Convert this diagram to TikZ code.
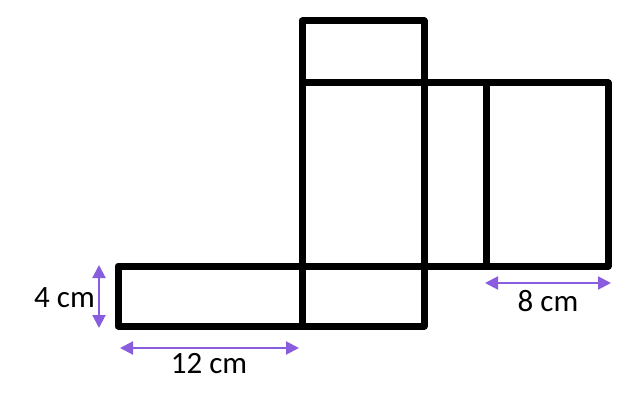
\documentclass[tikz,border=0pt]{standalone}
\usepackage{fontspec}
\setmainfont{Carlito}
\usepackage{xcolor}
\usetikzlibrary{arrows.meta}

\definecolor{dimcol}{RGB}{138,92,222}

\begin{document}
\begin{tikzpicture}[x=1pt, y=-1pt,
        face/.style={draw=black, line width=7pt, line join=round}, % faces of the net
        dimarrow/.style={draw=dimcol, line width=2pt,
            {Triangle[length=13pt,width=13pt]}-{Triangle[length=13pt,width=13pt]}},
        dimlabel/.style={font=\fontsize{31}{34}\selectfont, inner sep=0pt}
    ]
    \useasboundingbox (0,0) rectangle (640,412);

    % net of the cuboid
    \draw[face] (118,266) rectangle (302,326); % left
    \draw[face] (302,21) rectangle (424,83);   % top
    \draw[face] (302,83) rectangle (424,266);  % front
    \draw[face] (302,266) rectangle (424,326); % bottom
    \draw[face] (424,83) rectangle (486,266);  % side
    \draw[face] (486,83) rectangle (608,266);  % back

    % dimension arrows
    \coordinate (htop) at (99,265);
    \coordinate (hbot) at (99,328);
    \coordinate (wleft) at (120,348);
    \coordinate (wright) at (299,348);
    \coordinate (lleft) at (485,283);
    \coordinate (lright) at (611,283);

    \draw[dimarrow] (htop) -- (hbot);
    \draw[dimarrow] (wleft) -- (wright);
    \draw[dimarrow] (lleft) -- (lright);

    \node[dimlabel, anchor=east] (height) at (95,298) {4 cm};
    \node[dimlabel] (width) at (209,364) {12 cm};
    \node[dimlabel] (length) at (548,301) {8 cm};
\end{tikzpicture}
\end{document}
